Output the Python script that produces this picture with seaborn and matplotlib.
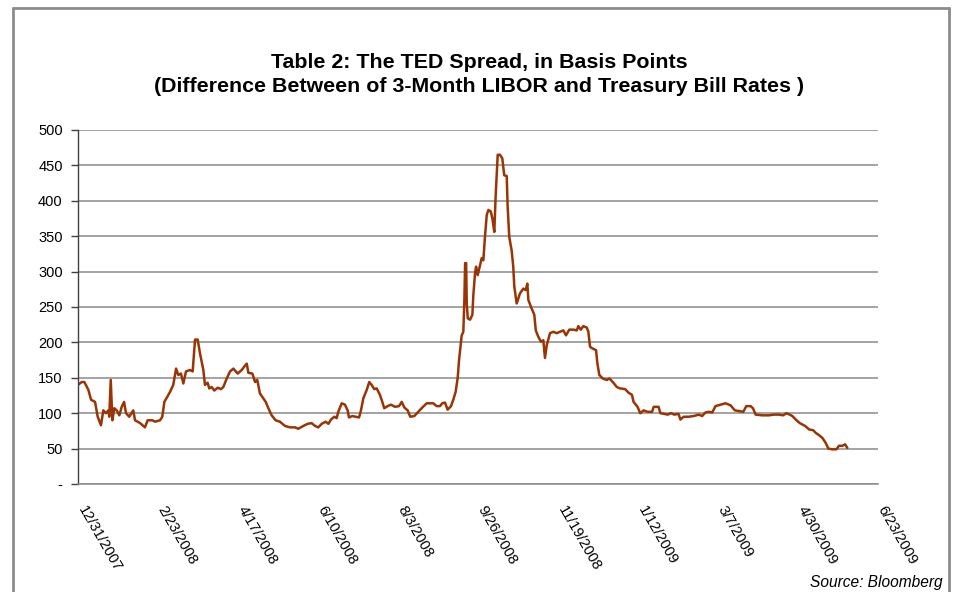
import numpy as np
import pandas as pd
import matplotlib
matplotlib.use('Agg')
import matplotlib.pyplot as plt
from matplotlib.lines import Line2D
from matplotlib.transforms import ScaledTranslation
import seaborn as sns

# TED spread (bp); x as days after 12/31/2007
start = '2007-12-31'
days = [0.0, 2.5, 4.3, 7.0, 8.8, 11.5, 13.3, 15.5, 17.1, 18.9, 20.5, 21.1, 22.1, 23.2,
        24.5, 26.1, 27.9, 29.5, 31.1, 32.4, 34.6, 37.3, 38.5, 41.9, 45.2, 47.0, 50.2,
        52.0, 55.4, 56.9, 58.3, 62.1, 64.3, 66.2, 67.7, 69.5, 71.1, 72.9, 75.6, 77.4,
        79.0, 80.8, 82.3, 84.6, 85.7, 87.5, 88.6, 90.2, 92.0, 94.3, 96.5, 98.1, 100.4,
        102.6, 104.9, 107.8, 110.5, 112.3, 113.9, 115.0, 117.7, 119.5, 121.0, 122.8,
        125.1, 126.7, 128.5, 130.7, 133.4, 136.3, 139.7, 143.1, 146.5, 148.7, 152.1,
        155.0, 157.7, 160.0, 162.2, 164.5, 167.2, 169.0, 170.8, 173.0, 174.6, 175.7,
        178.0, 180.2, 182.0, 182.9, 185.2, 187.4, 189.7, 191.0, 192.6, 194.9, 196.6,
        198.2, 200.0, 201.6, 203.8, 205.4, 206.7, 209.0, 211.3, 214.0, 216.7, 218.5,
        220.3, 222.5, 224.3, 227.0, 229.7, 232.4, 235.4, 237.6, 239.8, 242.1, 244.3,
        245.9, 247.7, 249.5, 251.8, 253.3, 254.9, 256.3, 257.2, 257.9, 259.0, 260.1,
        260.8, 261.3, 262.0, 262.4, 263.1, 264.6, 266.2, 266.8, 268.0, 268.7, 269.8,
        271.4, 272.5, 273.6, 274.7, 275.9, 277.0, 278.6, 279.7, 281.0, 281.9, 282.6,
        283.3, 284.8, 286.4, 287.7, 289.4, 290.0, 291.1, 292.7, 293.8, 294.5, 296.1,
        298.3, 300.6, 302.2, 303.3, 304.0, 305.8, 308.0, 309.0, 310.7, 312.5, 314.1,
        315.2, 316.4, 318.6, 320.8, 323.1, 325.3, 327.6, 329.4, 331.6, 334.4, 336.7,
        337.7, 339.4, 341.1, 343.4, 344.5, 345.6, 346.8, 349.7, 350.6, 351.9, 354.2,
        356.9, 358.7, 361.0, 363.7, 365.9, 369.3, 371.6, 373.9, 375.0, 377.7, 379.5,
        381.8, 384.5, 387.5, 388.6, 391.9, 393.1, 395.8, 398.0, 400.3, 402.5, 405.4,
        406.6, 408.8, 412.2, 415.6, 419.0, 421.3, 423.5, 425.8, 428.1, 430.3, 433.7,
        437.1, 440.5, 443.4, 446.1, 449.1, 451.1, 454.0, 455.6, 457.4, 461.9, 466.4,
        469.8, 473.2, 475.9, 478.2, 480.4, 482.2, 484.5, 487.2, 490.8, 493.5, 496.2,
        498.1, 500.2, 502.5, 504.7, 506.5, 509.2, 511.9, 513.7, 516.0, 517.8, 519.3]
spread_bp = [140, 144, 144, 133, 119, 116, 95, 83, 104, 100, 104, 95, 147, 90,
             107, 104, 97, 109, 116, 100, 95, 104, 90, 86, 80, 90, 90,
             88, 90, 95, 116, 130, 140, 163, 154, 156, 142, 159, 161, 159,
             204, 204, 185, 161, 140, 143, 135, 137, 132, 136, 134, 137, 149,
             159, 163, 156, 161, 166, 170, 157, 156, 144, 147, 128,
             121, 116, 107, 97, 90, 88, 82, 80, 80, 78, 82,
             85, 86, 82, 80, 85, 88, 85, 91, 95, 93, 102,
             114, 112, 104, 94, 96, 95, 94, 104, 121, 133, 144,
             140, 134, 135, 126, 116, 107, 110, 112, 109, 110, 116,
             108, 104, 95, 96, 102, 108, 114, 114, 114, 110, 110,
             114, 115, 105, 110, 119, 130, 150, 175, 189, 210, 215,
             260, 312, 312, 255, 234, 232, 239, 265, 298, 307, 295,
             309, 319, 316, 349, 380, 387, 385, 375, 356, 406, 434,
             465, 465, 460, 436, 435, 392, 349, 330, 307, 279, 255,
             269, 276, 274, 283, 260, 250, 239, 217, 208, 201, 203,
             178, 196, 213, 215, 213, 215, 217, 210, 218, 218, 217,
             223, 218, 223, 221, 215, 194, 192, 189, 170, 154, 149,
             147, 149, 144, 137, 135, 134, 129, 126, 116, 109, 100,
             104, 102, 102, 109, 109, 100, 99, 98, 100, 98, 99,
             91, 95, 95, 96, 98, 96, 101, 102, 101, 110, 112,
             114, 111, 104, 103, 102, 110, 110, 107, 98, 97, 97,
             98, 98, 97, 100, 98, 96, 91, 86, 82, 77, 76,
             72, 69, 65, 58, 50, 49, 49, 54, 54, 56, 51]

tick_labels = ['12/31/2007', '2/23/2008', '4/17/2008', '6/10/2008', '8/3/2008',
               '9/26/2008', '11/19/2008', '1/12/2009', '3/7/2009', '4/30/2009',
               '6/23/2009']
y_ticks = [0, 50, 100, 150, 200, 250, 300, 350, 400, 450, 500]

df = pd.DataFrame({
    'date': pd.Timestamp(start) + pd.to_timedelta(days, unit='D'),
    'ted': spread_bp,
})
tick_dates = pd.to_datetime(tick_labels, format='%m/%d/%Y')

sns.set_style('white')
plt.rcParams['font.family'] = ['Liberation Sans', 'DejaVu Sans']
plt.rcParams['text.color'] = 'black'
plt.rcParams['xtick.color'] = 'black'
plt.rcParams['ytick.color'] = 'black'

W, H = 959, 592
fig = plt.figure(figsize=(W / 100, H / 100), dpi=100)
ax = fig.add_axes([78 / W, 1 - 484 / H, 800 / W, 354 / H])

sns.lineplot(data=df, x='date', y='ted', ax=ax, color='#9A3404', linewidth=1.8)

ax.set_ylim(0, 500)
ax.set_xlim(tick_dates[0], tick_dates[-1])
ax.set_yticks(y_ticks)
ax.set_yticklabels(['-' if v == 0 else str(v) for v in y_ticks])
ax.set_xticks(tick_dates)
ax.set_xticklabels(tick_labels, rotation=-60, ha='left', va='top',
                   rotation_mode='anchor')
ax.set_xlabel('')
ax.set_ylabel('')

ax.yaxis.grid(True, color='#8a8a8a', linewidth=1.1)
ax.xaxis.grid(False)
ax.set_axisbelow(True)
for side in ['top', 'right']:
    ax.spines[side].set_visible(False)
ax.spines['left'].set_color('#404040')
ax.spines['left'].set_linewidth(1.0)
ax.spines['bottom'].set_color('#8a8a8a')
ax.spines['bottom'].set_linewidth(1.1)
ax.tick_params(axis='y', direction='out', length=5, width=1, color='#404040',
               pad=6, labelsize=10.5, left=True)
ax.tick_params(axis='x', length=0, pad=14, labelsize=10.5)
shift = ScaledTranslation(9 / 100, 0, fig.dpi_scale_trans)
for lbl in ax.get_xticklabels():
    lbl.set_transform(lbl.get_transform() + shift)

fig.text(0.5, 1 - 63 / H, 'Table 2: The TED Spread, in Basis Points',
         ha='center', va='center', fontsize=15.4, fontweight='bold')
fig.text(0.5, 1 - 86 / H,
         '(Difference Between of 3-Month LIBOR and Treasury Bill Rates )',
         ha='center', va='center', fontsize=15.4, fontweight='bold')
fig.text(943 / W, 1 - 583 / H, 'Source: Bloomberg', ha='right', va='center',
         fontsize=11.2, style='italic')

# outer frame (bottom edge cut off in the original)
frame = dict(color='#8c8c8c', linewidth=2, transform=fig.transFigure)
fig.add_artist(Line2D([13 / W, 13 / W], [0, 1 - 8 / H], **frame))
fig.add_artist(Line2D([13 / W, 949 / W], [1 - 8 / H, 1 - 8 / H], **frame))
fig.add_artist(Line2D([949 / W, 949 / W], [0, 1 - 8 / H], **frame))

fig.savefig('out.png', dpi=100)
